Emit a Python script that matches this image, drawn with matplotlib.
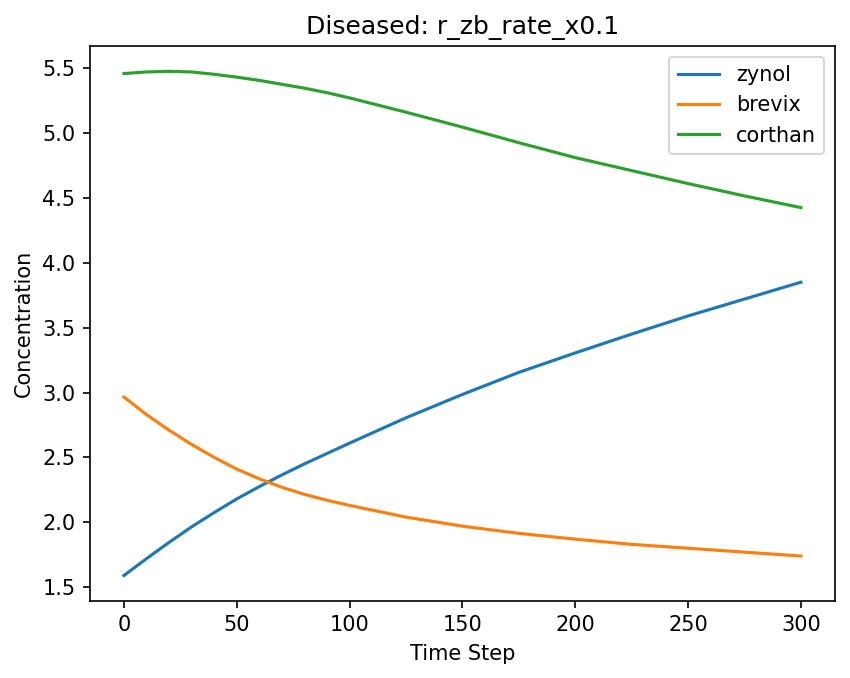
import numpy as np
import matplotlib
matplotlib.use("Agg")
import matplotlib.pyplot as plt

# values: every 10 steps up to 100, then every 25
time_step = [0, 10, 20, 30, 40, 50, 60, 70, 80, 90, 100,
             125, 150, 175, 200, 225, 250, 275, 300]
zynol = [1.59, 1.72, 1.845, 1.965, 2.075, 2.18, 2.275, 2.365, 2.45, 2.53, 2.61,
         2.805, 2.985, 3.155, 3.305, 3.45, 3.59, 3.72, 3.85]
brevix = [2.965, 2.83, 2.71, 2.60, 2.50, 2.41, 2.335, 2.27, 2.215, 2.17, 2.13,
          2.04, 1.97, 1.915, 1.87, 1.83, 1.80, 1.77, 1.74]
corthan = [5.458, 5.47, 5.475, 5.47, 5.452, 5.43, 5.405, 5.375, 5.345, 5.31, 5.27,
           5.16, 5.045, 4.925, 4.81, 4.71, 4.61, 4.515, 4.425]


def main():
    fig = plt.figure(figsize=(8.5 / 1.5, 6.78 / 1.5), dpi=150)
    ax = fig.add_subplot(111)
    fig.subplots_adjust(left=0.106, right=0.982, top=0.932, bottom=0.114)

    ax.plot(time_step, zynol, label="zynol")
    ax.plot(time_step, brevix, label="brevix")
    ax.plot(time_step, corthan, label="corthan")

    ax.set_title("Diseased: r_zb_rate_x0.1")
    ax.set_xlabel("Time Step")
    ax.set_ylabel("Concentration")
    ax.legend(loc="upper right")
    fig.savefig("out.png", dpi=150)
    plt.close(fig)


if __name__ == "__main__":
    main()
